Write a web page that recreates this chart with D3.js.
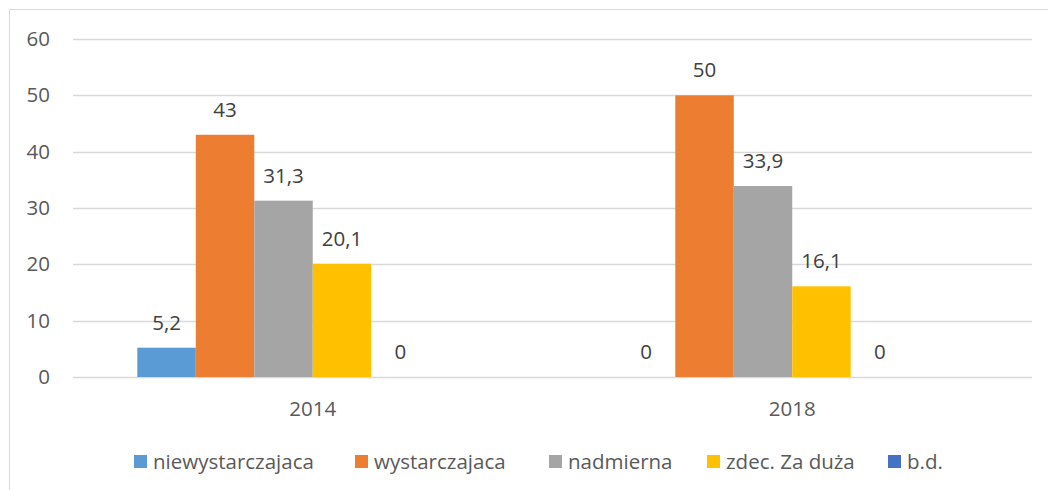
<!DOCTYPE html>
<html>
<head>
<meta charset="utf-8">
<script src="https://cdn.jsdelivr.net/npm/d3@7"></script>
<style>
  body { margin: 0; background: #fff; }
  svg { display: block; font-family: "Open Sans", sans-serif; }
</style>
</head>
<body>
<div id="chart"></div>
<script>
// wymiary strony
const width = 1048;
const height = 490;

// dane
const years = ["2014", "2018"];
const seriesNames = ["niewystarczajaca", "wystarczajaca", "nadmierna", "zdec. Za duża", "b.d.", ""];
const seriesColors = ["#5B9BD5", "#ED7D31", "#A5A5A5", "#FFC000", "#4472C4", "#70AD47"];
const values2014 = [5.2, 43, 31.3, 20.1, 0, null];
const values2018 = [0, 50, 33.9, 16.1, 0, null];
const yTicks = [0, 10, 20, 30, 40, 50, 60];

const rows = [values2014, values2018];
const fontSize = "20.5px";

const svg = d3.select("#chart")
    .append("svg")
    .attr("width", width)
    .attr("height", height);

// ramka wykresu
svg.append("path")
    .attr("d", `M9.5,${height}V9.5H${width}`)
    .attr("fill", "none")
    .attr("stroke", "#D9D9D9")
    .attr("stroke-width", 1);

const plot = { left: 73, right: 1032, top: 39, bottom: 377 };

const x0 = d3.scaleBand()
    .domain(years)
    .range([plot.left, plot.right])
    .padding(0);

const x1 = d3.scaleBand()
    .domain(d3.range(seriesNames.length))
    .range([0, x0.bandwidth()])
    .paddingInner(0)
    .paddingOuter(1.1);

const y = d3.scaleLinear()
    .domain([0, 60])
    .range([plot.bottom, plot.top]);

// linie siatki
svg.append("g")
    .selectAll("line")
    .data(yTicks)
    .enter()
    .append("line")
    .attr("x1", plot.left)
    .attr("x2", plot.right)
    .attr("y1", d => Math.round(y(d)) + 0.5)
    .attr("y2", d => Math.round(y(d)) + 0.5)
    .attr("stroke", "#D9D9D9")
    .attr("stroke-width", 1.3);

// etykiety osi Y
const yAxis = d3.axisLeft(y).tickValues(yTicks).tickSize(0).tickPadding(0);
const gy = svg.append("g")
    .attr("transform", "translate(50,0)")
    .call(yAxis);
gy.select(".domain").remove();
gy.selectAll("text")
    .attr("fill", "#595959")
    .style("font-size", fontSize)
    .style("font-family", "'Open Sans', sans-serif");

// słupki
const groups = svg.append("g")
    .selectAll("g")
    .data(rows)
    .enter()
    .append("g")
    .attr("transform", (d, i) => `translate(${x0(years[i])},0)`);

groups.selectAll("rect")
    .data(d => d.map((v, i) => ({ v, i })).filter(e => e.v !== null))
    .enter()
    .append("rect")
    .attr("x", d => x1(d.i))
    .attr("width", x1.bandwidth())
    .attr("y", d => y(d.v))
    .attr("height", d => y(0) - y(d.v))
    .attr("fill", d => seriesColors[d.i]);

// etykiety danych
groups.selectAll("text")
    .data(d => d.map((v, i) => ({ v, i })).filter(e => e.v !== null))
    .enter()
    .append("text")
    .attr("x", d => x1(d.i) + x1.bandwidth() / 2)
    .attr("y", d => y(d.v) - 18)
    .attr("text-anchor", "middle")
    .attr("fill", "#404040")
    .style("font-size", fontSize)
    .text(d => String(d.v).replace(".", ","));

// etykiety kategorii
svg.append("g")
    .selectAll("text")
    .data(years)
    .enter()
    .append("text")
    .attr("x", d => x0(d) + x0.bandwidth() / 2)
    .attr("y", 416)
    .attr("text-anchor", "middle")
    .attr("fill", "#595959")
    .style("font-size", fontSize)
    .text(d => d);

// legenda
const legendX = [134, 355, 549, 707, 888];
const legend = svg.append("g")
    .selectAll("g")
    .data(seriesNames.slice(0, 5))
    .enter()
    .append("g")
    .attr("transform", (d, i) => `translate(${legendX[i]},455)`);

legend.append("rect")
    .attr("width", 13)
    .attr("height", 13)
    .attr("fill", (d, i) => seriesColors[i]);

legend.append("text")
    .attr("x", 19)
    .attr("y", 14)
    .attr("fill", "#595959")
    .style("font-size", fontSize)
    .text(d => d);
</script>
</body>
</html>
